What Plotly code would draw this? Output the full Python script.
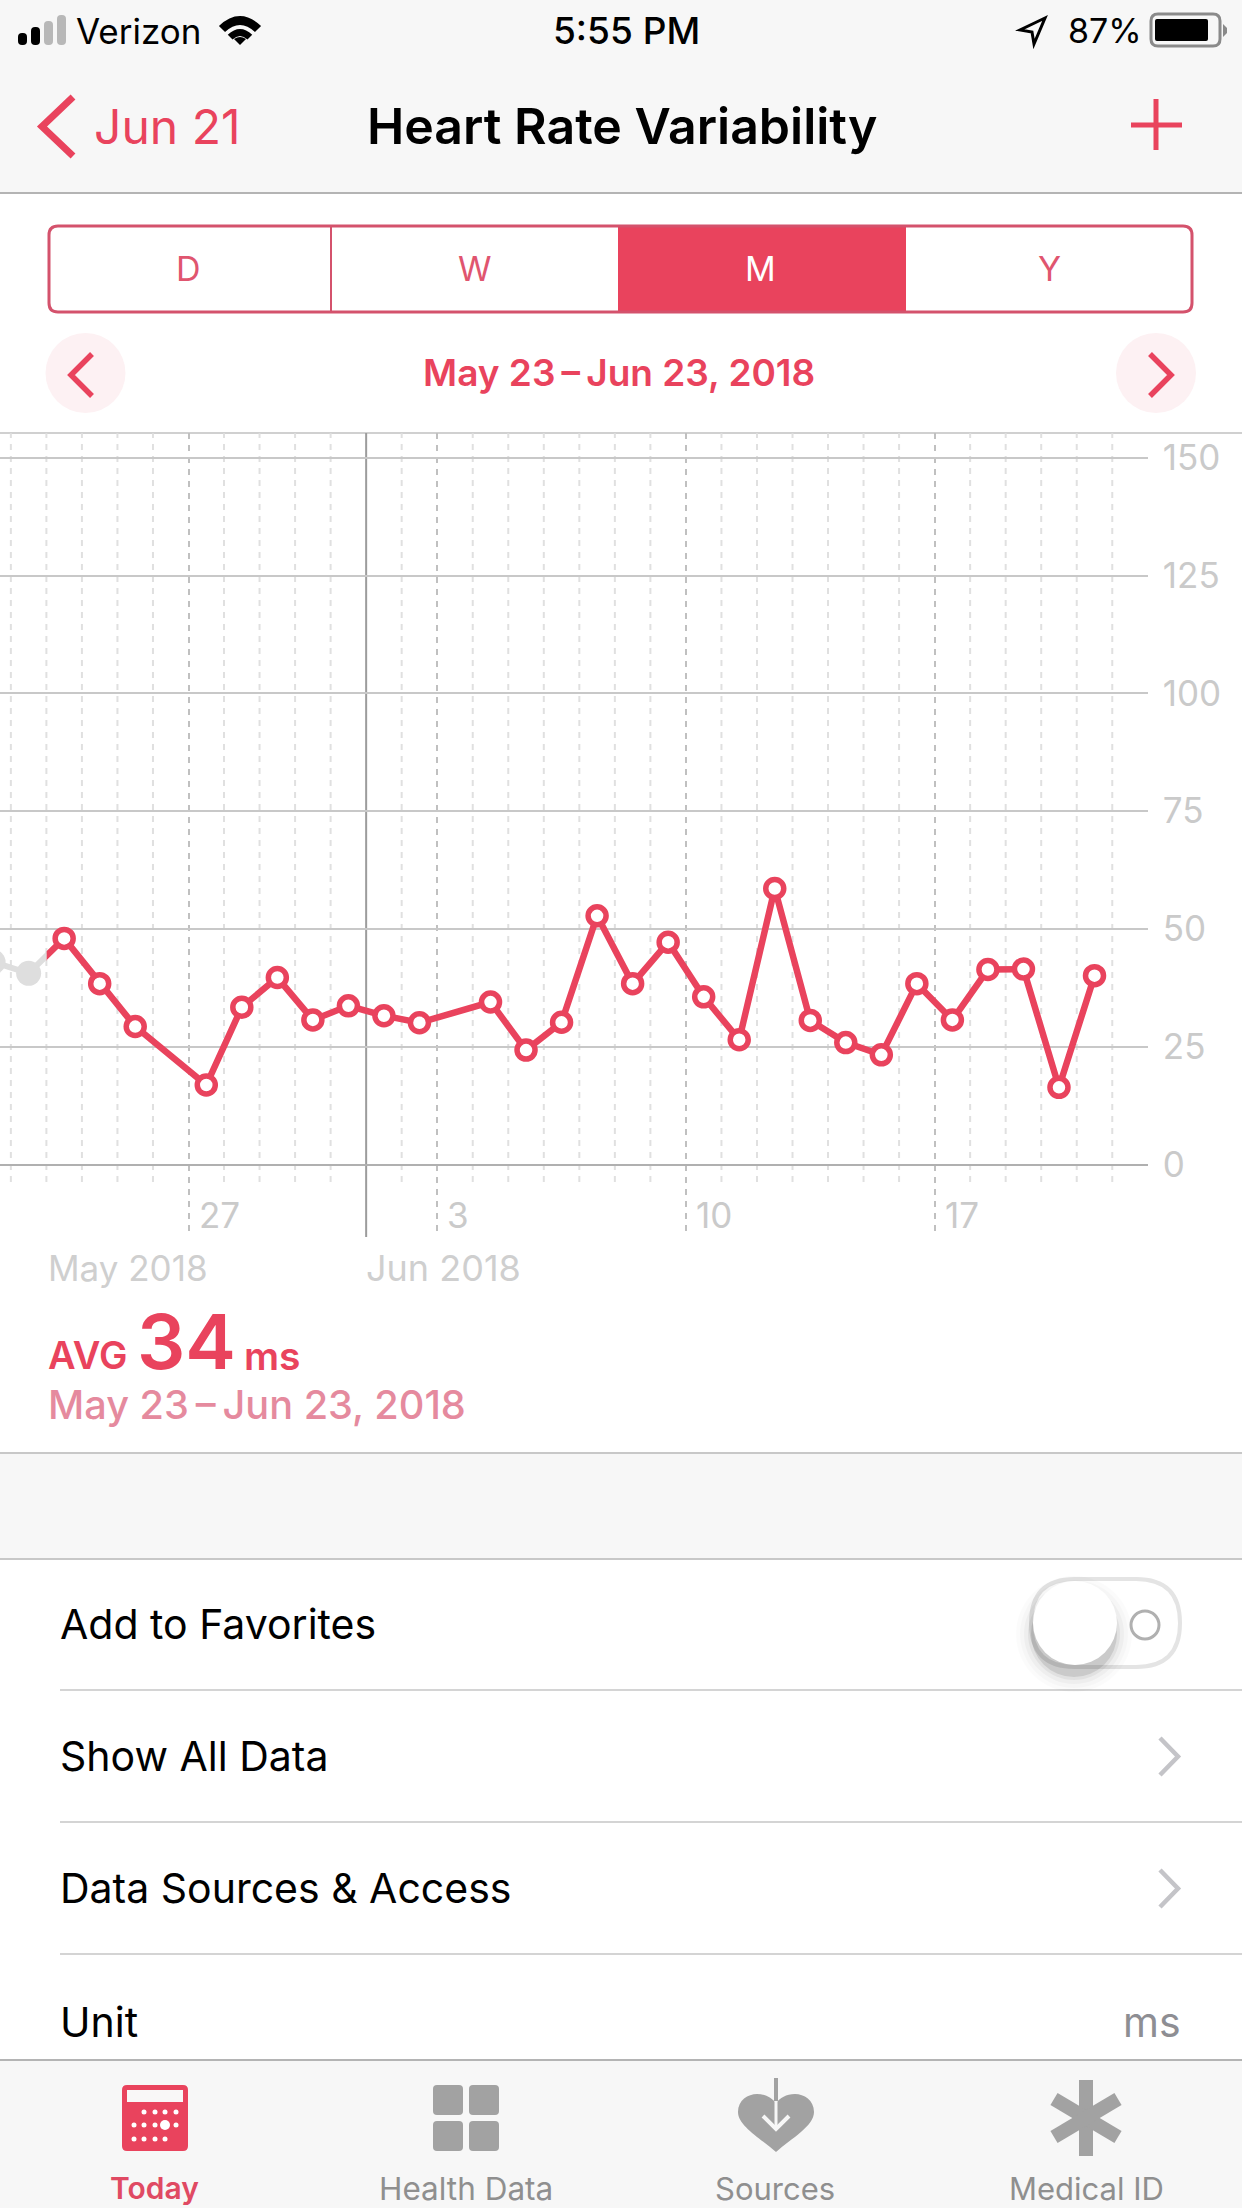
import plotly.graph_objects as go

W, H = 1242, 2208
FONT = "Inter"
RED = "#e9435d"
GRID = "#c8c8c8"
LABEL = "#cacaca"
BAR = "#f7f7f7"
ICON = "#a2a2a2"

# Heart rate variability, ms
hrv_dates = ["05-23", "05-24", "05-25", "05-27", "05-28", "05-29", "05-30", "05-31",
             "06-01", "06-02", "06-04", "06-05", "06-06", "06-07", "06-08", "06-09",
             "06-10", "06-11", "06-12", "06-13", "06-14", "06-15", "06-16", "06-17",
             "06-18", "06-19", "06-20", "06-21"]
hrv_values = [48.0, 38.4, 29.3, 16.9, 33.4, 39.7, 30.7, 33.7,
              31.6, 30.1, 34.5, 24.3, 30.2, 52.8, 38.4, 47.2,
              35.6, 26.5, 58.6, 30.6, 25.9, 23.3, 38.4, 30.7,
              41.4, 41.5, 16.4, 40.1]
# the points before the selected range are drawn grey
before_dates = ["05-21", "05-22"]
before_values = [43.0, 40.6]

y_ticks = [0, 25, 50, 75, 100, 125, 150]
week_dates = ["2018-05-27", "2018-06-03", "2018-06-10", "2018-06-17"]
week_labels = ["27", "3", "10", "17"]
minor_days = ["05-22", "05-23", "05-24", "05-25", "05-26", "05-28", "05-29", "05-30", "05-31",
              "06-02", "06-04", "06-05", "06-06", "06-07", "06-08", "06-09", "06-11", "06-12",
              "06-13", "06-14", "06-15", "06-16", "06-18", "06-19", "06-20", "06-21", "06-22"]
month_start = "2018-06-01"
segments = ["D", "W", "M", "Y"]
rows = ["Add to Favorites", "Show All Data", "Data Sources & Access", "Unit"]
tabs = ["Today", "Health Data", "Sources", "Medical ID"]
period = "May 23\u2009–\u2009Jun 23, 2018"


def px(x):
    return x / W


def py(y):
    return 1 - y / H


def noon(day):
    return f"2018-{day} 12:00"


fig = go.Figure()
shapes = []
notes = []


def rect(x0, y0, x1, y1, fill, line=None, width=0, layer="below"):
    shapes.append(dict(type="rect", xref="paper", yref="paper", x0=px(x0), x1=px(x1), y0=py(y0), y1=py(y1),
                       fillcolor=fill, line=dict(color=line or fill, width=width), layer=layer))


def circle(cx, cy, r, fill, line=None, width=0, opacity=1):
    shapes.append(dict(type="circle", xref="paper", yref="paper", x0=px(cx - r), x1=px(cx + r),
                       y0=py(cy - r), y1=py(cy + r), fillcolor=fill, opacity=opacity,
                       line=dict(color=line or fill, width=width), layer="below"))


def seg(x0, y0, x1, y1, color, width):
    shapes.append(dict(type="line", xref="paper", yref="paper", x0=px(x0), x1=px(x1), y0=py(y0), y1=py(y1),
                       line=dict(color=color, width=width), layer="below"))


def path(points, fill=None, line=None, width=0):
    # points is a list of svg commands with pixel coordinates of the page
    out = []
    for cmd in points:
        if isinstance(cmd, str):
            out.append(cmd)
        else:
            out.append(f"{px(cmd[0])},{py(cmd[1])}")
    shapes.append(dict(type="path", xref="paper", yref="paper", path=" ".join(out), layer="below",
                       fillcolor=fill or "rgba(0,0,0,0)", line=dict(color=line or "rgba(0,0,0,0)", width=width)))


def rounded(x0, y0, x1, y1, r, fill=None, line=None, width=0):
    path(["M", (x0 + r, y0), "L", (x1 - r, y0), "Q", (x1, y0), (x1, y0 + r), "L", (x1, y1 - r),
          "Q", (x1, y1), (x1 - r, y1), "L", (x0 + r, y1), "Q", (x0, y1), (x0, y1 - r), "L", (x0, y0 + r),
          "Q", (x0, y0), (x0 + r, y0), "Z"], fill, line, width)


def chevron(x0, x1, y0, y1, color, width):
    # tip is at x1, open side at x0
    mid = (y0 + y1) / 2
    path(["M", (x0, y0), "L", (x1, mid), "L", (x0, y1)], None, color, width)


def text(x, y, s, size, color, anchor="left", weight=400):
    notes.append(dict(xref="paper", yref="paper", x=px(x), y=py(y), text=s, showarrow=False, xanchor=anchor,
                      yanchor="middle", borderpad=0, font=dict(family=FONT, size=size, color=color, weight=weight)))


# bars and backgrounds
rect(0, 0, W, 193, BAR)
seg(0, 193, W, 193, "#b4b4b4", 2)
rect(0, 1453, W, 1559, BAR)
seg(0, 1453, W, 1453, GRID, 2)
seg(0, 1559, W, 1559, GRID, 2)
rect(0, 2060, W, H, BAR)
seg(0, 2060, W, 2060, "#b4b4b4", 2)

# status bar
for x0, top, color in [(18, 33, "#000000"), (31, 27, "#000000"), (44, 21, "#b8b8b8"), (57, 15, "#b8b8b8")]:
    rounded(x0, top, x0 + 9, 45, 4, color)
text(75, 31, "Verizon", 35, "#000000")
cx, cy = 240, 47
for r0, r1 in [(22, 31), (11, 18)]:
    d0, d1 = r0 * 0.68, r1 * 0.68
    path(["M", (cx - d1, cy - d1), "Q", (cx, cy - r1 * 1.32), (cx + d1, cy - d1),
          "L", (cx + d0, cy - d0), "Q", (cx, cy - r0 * 1.32), (cx - d0, cy - d0), "Z"], "#000000")
path(["M", (cx, cy - 2), "L", (cx - 6, cy - 8), "Q", (cx, cy - 12), (cx + 6, cy - 8), "Z"], "#000000")
text(626, 31, "5:55 PM", 37, "#000000", "center", 500)
path(["M", (1045, 18), "L", (1020, 30), "L", (1032, 32), "L", (1034, 44), "Z"], None, "#000000", 3)
text(1067, 31, "87%", 34, "#000000")
rounded(1151, 14, 1220, 46, 7, None, "#8a8a8a", 3)
rounded(1155, 19, 1208, 41, 2, "#000000")
path(["M", (1223, 24), "L", (1227, 28), "L", (1227, 33), "L", (1223, 37), "Z"], "#8a8a8a")

# navigation bar
chevron(73, 42, 97, 156, RED, 7)
text(93, 127, "Jun 21", 48, RED)
text(622, 126, "Heart Rate Variability", 50, "#000000", "center", 600)
seg(1131, 125, 1182, 125, RED, 5)
seg(1156, 99, 1156, 150, RED, 5)

# range selector
rect(618, 226, 906, 312, RED)
rounded(49, 226, 1192, 312, 9, None, "#d4526c", 3)
seg(331, 226, 331, 312, "#d4526c", 2)
for name, x in zip(segments, [188, 475, 761, 1049]):
    text(x, 269, name, 34, "#ffffff" if name == "M" else "#e0556f", "center")
circle(85.5, 373, 40, "#fdf1f3")
circle(1156, 373, 40, "#fdf1f3")
chevron(92, 71, 354, 396, RED, 5.5)
chevron(1150, 1171, 354, 396, RED, 5.5)
text(619, 373, period, 37, RED, "center", 600)
seg(0, 433, W, 433, "#d0d0d0", 2)

# summary under the chart
text(47, 1268, "May 2018", 35, "#cfcfcf")
text(365, 1268, "Jun 2018", 36, "#cfcfcf")
text(47, 1355, "AVG", 38, RED, weight=600)
text(136, 1341, "34", 76, RED, weight=600)
text(243, 1355, "ms", 39, RED, weight=600)
text(47, 1405, period, 39.7, "#e58a9e", weight=500)

# table rows
for name, y in zip(rows, [1624, 1756, 1888, 2022]):
    text(59, y, name, 41, "#000000")
for y in [1690, 1822, 1954]:
    seg(60, y, W, y, "#d4d4d4", 2)
chevron(1160, 1178, 1738, 1775, "#c4c4c8", 4.5)
chevron(1160, 1178, 1870, 1907, "#c4c4c8", 4.5)
text(1182, 2022, "ms", 41, "#8e8e93", "right")

# toggle
rounded(1031, 1579, 1180, 1667, 44, "#ffffff", "#e4e4e4", 4)
for r, op in [(58, 0.015), (54, 0.02), (50, 0.03), (46, 0.05), (43, 0.1)]:
    circle(1074, 1634, r, "#000000", opacity=op)
circle(1075, 1623, 42, "#ffffff")
circle(1145, 1625, 14, "rgba(0,0,0,0)", "#b0b0b0", 3)

# tab bar icons
rounded(122, 2085, 188, 2151, 5, RED)
rect(127, 2090, 183, 2102, "#f9f7f7")
for x, y, r in [(144, 2112, 2.5), (155, 2112, 2.5), (165, 2112, 2.5), (176, 2112, 2.5),
                (134, 2125, 2.5), (144, 2125, 2.5), (155, 2125, 2.5), (165, 2125, 5), (176, 2125, 2.5),
                (134, 2139, 2.5), (144, 2139, 2.5), (155, 2139, 2.5), (165, 2139, 2.5)]:
    circle(x, y, r, "#ffffff")
for x0, y0 in [(433, 2085), (469, 2085), (433, 2121), (469, 2121)]:
    rounded(x0, y0, x0 + 30, y0 + 30, 4, ICON)
path(["M", (776, 2152), "C", (760, 2138), (738, 2126), (738, 2112), "C", (738, 2100), (748, 2094), (757, 2094),
      "C", (766, 2094), (772, 2098), (776, 2103), "C", (780, 2098), (786, 2094), (795, 2094),
      "C", (804, 2094), (814, 2100), (814, 2112), "C", (814, 2126), (792, 2138), (776, 2152), "Z"], ICON)
seg(776, 2078, 776, 2101, ICON, 4)
seg(776, 2101, 776, 2128, "#f7f7f7", 3)
path(["M", (763, 2116), "L", (776, 2129), "L", (789, 2116)], None, "#f7f7f7", 4)
seg(1086, 2080, 1086, 2156, ICON, 14)
seg(1054, 2099, 1118, 2137, ICON, 14)
seg(1054, 2137, 1118, 2099, ICON, 14)
for name, x, color, weight, size in zip(tabs, [154, 466, 775, 1086], ["#e04a63", "#8f8f8f", "#8f8f8f", "#8f8f8f"],
                                        [600, 400, 400, 400], [30, 31.5, 31, 31]):
    text(x, 2188, name, size, color, "center", weight)

# chart
for day in minor_days:
    shapes.append(dict(type="line", xref="x", yref="y", x0="2018-" + day, x1="2018-" + day, y0=-3.7, y1=155.2,
                       line=dict(color="#e0e0e0", width=2, dash="6px,6px"), layer="below"))
shapes.append(dict(type="line", xref="x", yref="paper", x0=month_start, x1=month_start, y0=py(1237), y1=py(433),
                   line=dict(color="#9c9c9c", width=2), layer="below"))
for day, label in zip(week_dates, week_labels):
    notes.append(dict(xref="x", yref="paper", x=day, y=py(1215), text=label, showarrow=False, xanchor="left",
                      yanchor="middle", xshift=9, borderpad=0, font=dict(family=FONT, size=35, color=LABEL)))

# both traces run past the start of the range, each is clipped by its own x axis there
all_dates = [noon(d) for d in before_dates + hrv_dates]
all_values = before_values + hrv_values
fig.add_trace(go.Scatter(x=all_dates[:3], y=all_values[:3], xaxis="x3", mode="lines+markers",
                         line=dict(color="#dedede", width=6), marker=dict(color="#dedede", size=25)))
fig.add_trace(go.Scatter(x=all_dates, y=all_values, xaxis="x2", mode="lines+markers",
                         line=dict(color=RED, width=6.5),
                         marker=dict(color="#ffffff", size=18, line=dict(color=RED, width=5.5))))

left_edge = "2018-05-21 16:40"
range_start = "2018-05-23"
range_end = "2018-06-23"
edge_px = 46.4
end_px = 1147.8
fig.update_layout(
    width=W, height=H, margin=dict(l=0, r=0, t=0, b=0), autosize=False, showlegend=False,
    paper_bgcolor="#ffffff", plot_bgcolor="rgba(0,0,0,0)", shapes=shapes, annotations=notes,
    xaxis=dict(type="date", domain=[0, px(end_px)], range=[left_edge, range_end], tickvals=week_dates,
               showticklabels=False, ticklen=0, showline=False, zeroline=False, showgrid=True,
               gridcolor="#c0c0c0", gridwidth=2, griddash="6px,6px"),
    xaxis2=dict(type="date", domain=[px(edge_px), px(end_px)], range=[range_start, range_end], anchor="y",
                visible=False, showgrid=False),
    xaxis3=dict(type="date", domain=[0, px(edge_px)], range=[left_edge, range_start], anchor="y",
                visible=False, showgrid=False),
    yaxis=dict(domain=[py(1237), py(433)], range=[-15.36, 155.26], side="right", tickvals=y_ticks, ticklen=0,
               showline=False, showgrid=True, gridcolor=GRID, gridwidth=2, zeroline=True,
               zerolinecolor="#b0b0b0", zerolinewidth=2, ticklabelstandoff=14,
               tickfont=dict(family=FONT, size=35, color=LABEL)),
)

fig.write_html("out.html", config={"displayModeBar": False},
               post_script="document.body.style.margin='0';document.body.style.overflow='hidden';")
